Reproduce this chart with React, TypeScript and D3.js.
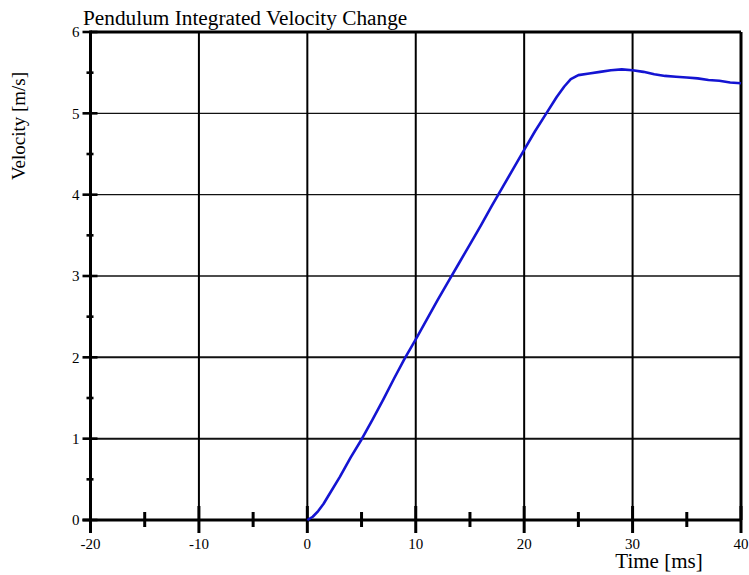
import React from "react";
import * as d3 from "d3";

const timeMs = [0, 0.5, 1, 1.5, 2, 3, 4, 5, 6, 7, 8, 9, 10, 11, 12, 13, 14, 15, 16, 17, 18, 19, 20, 21, 22, 23, 23.7, 24.3, 25, 26, 27, 28, 29, 30, 31, 32, 33, 34, 35, 36, 37, 38, 39, 40];
const velocity = [0, 0.04, 0.11, 0.2, 0.31, 0.53, 0.77, 0.99, 1.23, 1.48, 1.74, 1.99, 2.22, 2.46, 2.7, 2.93, 3.16, 3.39, 3.62, 3.86, 4.09, 4.32, 4.55, 4.78, 4.99, 5.2, 5.33, 5.42, 5.47, 5.49, 5.51, 5.53, 5.54, 5.53, 5.51, 5.48, 5.46, 5.45, 5.44, 5.43, 5.41, 5.4, 5.38, 5.37];
const xMajorTicks = [-20, -10, 0, 10, 20, 30, 40];
const xMinorTicks = [-15, -5, 5, 15, 25, 35];
const yMajorTicks = [0, 1, 2, 3, 4, 5, 6];
const yMinorTicks = [0.5, 1.5, 2.5, 3.5, 4.5, 5.5];

const W = 749, H = 575;
const FONT = "'Liberation Serif', 'Times New Roman', serif";

export default function App() {
  const x = d3.scaleLinear().domain([-20, 40]).range([90.5, 741]);
  const y = d3.scaleLinear().domain([0, 6]).range([520, 32]);
  const pts = timeMs.map((t, i) => [t, velocity[i]] as [number, number]);
  const line = d3.line<[number, number]>().x(d => x(d[0])).y(d => y(d[1]));
  const x0 = x(-20), x1 = x(40), y0 = y(0), y1 = y(6);

  return (
    <svg width={W} height={H} style={{ position: "absolute", left: 0, top: 0, background: "#fff" }}>
      <rect width={W} height={H} fill="#fff" />
      {/* horizontal grid */}
      {yMajorTicks.filter(v => v > 0 && v < 6).map(v => (
        <line key={"hg" + v} x1={x0} x2={x1} y1={y(v)} y2={y(v)} stroke="#111" strokeWidth={v <= 2 ? 2 : 1.4} />
      ))}
      {/* vertical grid */}
      {xMajorTicks.filter(v => v > -20 && v < 40).map(v => (
        <line key={"vg" + v} x1={x(v)} x2={x(v)} y1={y1} y2={y0} stroke="#000" strokeWidth={2} />
      ))}
      {/* frame */}
      <line x1={x0} x2={x1} y1={y1} y2={y1} stroke="#000" strokeWidth={3} />
      <line x1={x1} x2={x1} y1={y1} y2={y0} stroke="#000" strokeWidth={3} />
      <line x1={x0} x2={x0} y1={y1 - 1.5} y2={y0 + 12} stroke="#000" strokeWidth={3} />
      <line x1={x0 - 8} x2={x1} y1={y0} y2={y0} stroke="#000" strokeWidth={3} />
      {/* y ticks */}
      {yMajorTicks.map(v => (
        <line key={"yt" + v} x1={x0 - 8} x2={x0 + 7} y1={y(v)} y2={y(v)} stroke="#000" strokeWidth={2.6} />
      ))}
      {yMinorTicks.map(v => (
        <line key={"ym" + v} x1={x0 - 4} x2={x0 + 3} y1={y(v)} y2={y(v)} stroke="#000" strokeWidth={2.6} />
      ))}
      {/* x ticks */}
      {xMajorTicks.map(v => (
        <line key={"xt" + v} x1={x(v)} x2={x(v)} y1={y0 - 14} y2={y0 + 13} stroke="#000" strokeWidth={3} />
      ))}
      {xMinorTicks.map(v => (
        <line key={"xm" + v} x1={x(v)} x2={x(v)} y1={y0 - 8} y2={y0 + 7} stroke="#000" strokeWidth={3} />
      ))}
      {/* data line */}
      <path d={line(pts) || ""} fill="none" stroke="#1414d2" strokeWidth={2.6} strokeLinejoin="round" />
      {/* tick labels */}
      {yMajorTicks.map(v => (
        <text key={"yl" + v} x={x0 - 11} y={y(v)} dy="0.35em" textAnchor="end" fontFamily={FONT} fontSize={15} fill="#000">{v}</text>
      ))}
      {xMajorTicks.map(v => (
        <text key={"xl" + v} x={x(v)} y={549} textAnchor="middle" fontFamily={FONT} fontSize={15} fill="#000">{v}</text>
      ))}
      {/* titles */}
      <text x={83} y={25} fontFamily={FONT} fontSize={21.3} fill="#000">Pendulum Integrated Velocity Change</text>
      <text x={659} y={568} textAnchor="middle" fontFamily={FONT} fontSize={21} fill="#000">Time [ms]</text>
      <text transform="translate(25,126) rotate(-90)" textAnchor="middle" fontFamily={FONT} fontSize={19} fill="#000">Velocity [m/s]</text>
    </svg>
  );
}
